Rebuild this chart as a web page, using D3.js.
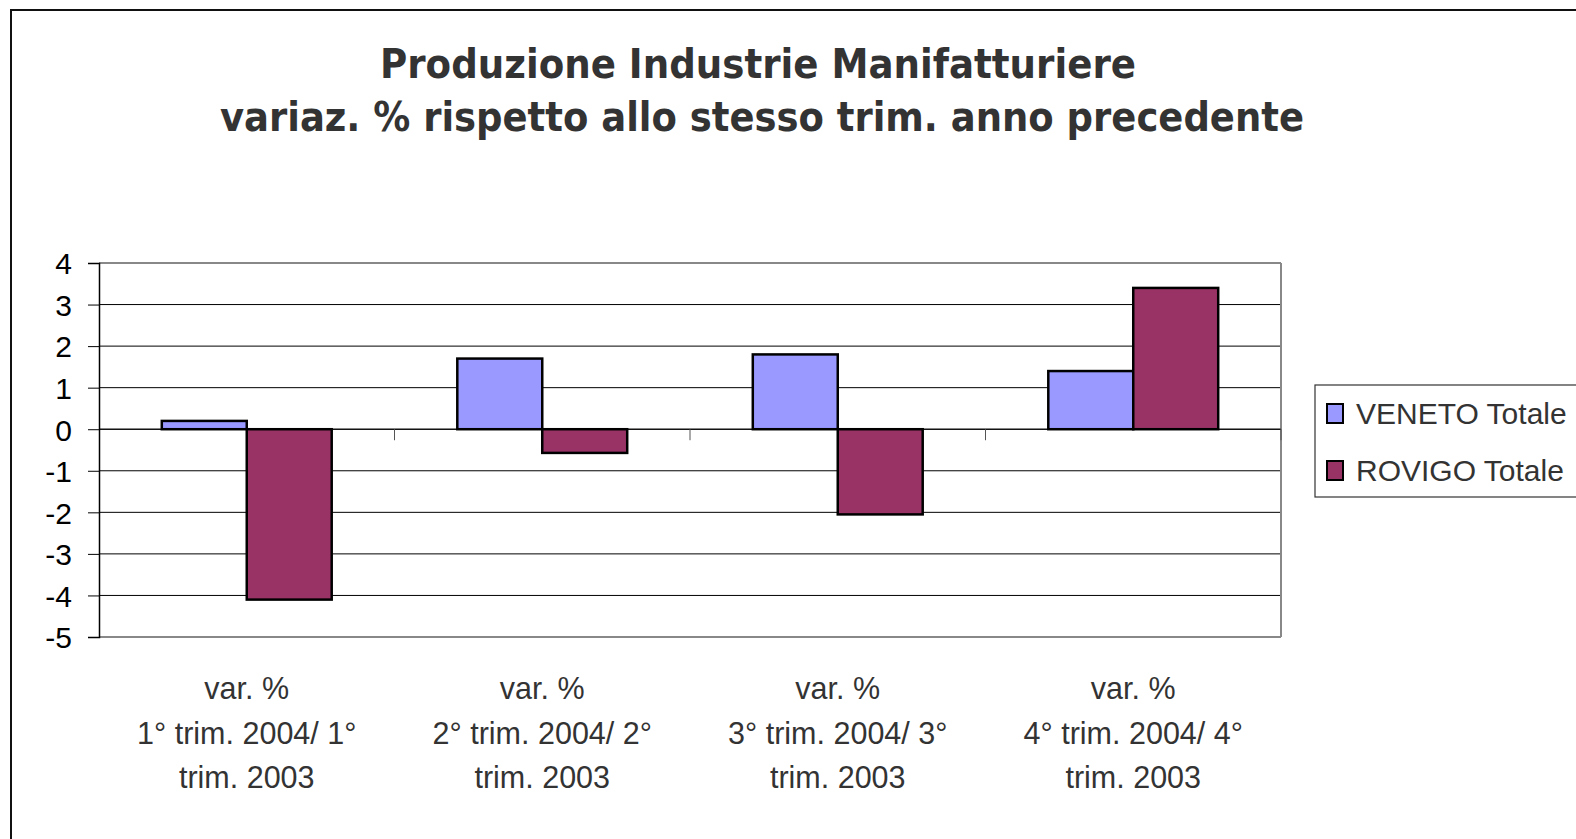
<!DOCTYPE html>
<html><head><meta charset="utf-8">
<script src="https://cdn.jsdelivr.net/npm/d3@7"></script>
<style>body{margin:0;background:#fff}svg{display:block}</style>
</head><body>
<svg id="chart" width="1576" height="839"></svg>
<script>
const titleLines = ["Produzione Industrie Manifatturiere", "variaz. % rispetto allo stesso trim. anno precedente"];
const categories = [
  ["var. %", "1° trim. 2004/ 1°", "trim. 2003"],
  ["var. %", "2° trim. 2004/ 2°", "trim. 2003"],
  ["var. %", "3° trim. 2004/ 3°", "trim. 2003"],
  ["var. %", "4° trim. 2004/ 4°", "trim. 2003"]
];
const seriesNames = ["VENETO Totale", "ROVIGO Totale"];
const venetoValues = [0.2, 1.7, 1.8, 1.4];
const rovigoValues = [-4.1, -0.57, -2.05, 3.4];
const yTicks = [4, 3, 2, 1, 0, -1, -2, -3, -4, -5];
const colors = ["#9999FF", "#993366"];

const svg = d3.select("#chart");
const W = 1576, H = 839;
const plot = {left: 99, right: 1281, top: 263, bottom: 637};

svg.append("rect").attr("width", W).attr("height", H).attr("fill", "#fff");
// outer chart border (extends beyond the picture)
svg.append("rect").attr("x", 11).attr("y", 10).attr("width", 1700).attr("height", 1000)
  .attr("fill", "none").attr("stroke", "#111").attr("stroke-width", 2);

// title
const titleWidths = [756, 1084];
const titleCenters = [758, 762];
titleLines.forEach((t, i) => {
  svg.append("text").attr("x", titleCenters[i]).attr("y", 78 + i * 53)
    .attr("text-anchor", "middle")
    .attr("font-family", "'DejaVu Sans Condensed', 'DejaVu Sans', sans-serif")
    .attr("font-weight", "bold").attr("font-size", 40)
    .attr("fill", "#333")
    .attr("textLength", titleWidths[i]).attr("lengthAdjust", "spacingAndGlyphs")
    .text(t);
});

const y = d3.scaleLinear().domain([-5, 4]).range([plot.bottom, plot.top]);
const x0 = d3.scaleBand().domain(d3.range(categories.length))
  .range([plot.left, plot.right]).paddingInner(0.425).paddingOuter(0.2125);
const x1 = d3.scaleBand().domain([0, 1]).range([0, x0.bandwidth()]);

// gridlines
svg.append("g").selectAll("line").data(yTicks.filter(d => d !== 4 && d !== -5)).join("line")
  .attr("x1", plot.left).attr("x2", plot.right)
  .attr("y1", d => y(d)).attr("y2", d => y(d))
  .attr("stroke", "#000").attr("stroke-width", 1);
// top & bottom & right borders (gray)
svg.append("line").attr("x1", plot.left).attr("x2", plot.right).attr("y1", y(4)).attr("y2", y(4))
  .attr("stroke", "#888").attr("stroke-width", 2);
svg.append("line").attr("x1", plot.left).attr("x2", plot.right).attr("y1", y(-5)).attr("y2", y(-5))
  .attr("stroke", "#888").attr("stroke-width", 2);
svg.append("line").attr("x1", plot.right).attr("x2", plot.right).attr("y1", y(4)).attr("y2", y(-5))
  .attr("stroke", "#888").attr("stroke-width", 2);

// bars
const data = categories.map((c, i) => [venetoValues[i], rovigoValues[i]]);
const groups = svg.append("g").selectAll("g").data(data).join("g")
  .attr("transform", (d, i) => `translate(${x0(i)},0)`);
groups.selectAll("rect").data(d => d.map((v, k) => ({v, k}))).join("rect")
  .attr("x", d => x1(d.k)).attr("width", x1.bandwidth())
  .attr("y", d => y(Math.max(0, d.v))).attr("height", d => Math.abs(y(d.v) - y(0)))
  .attr("fill", d => colors[d.k]).attr("stroke", "#000").attr("stroke-width", 2.5);

// zero line with category ticks
svg.append("line").attr("x1", plot.left).attr("x2", plot.right).attr("y1", y(0)).attr("y2", y(0))
  .attr("stroke", "#000").attr("stroke-width", 1);
const step = x0.step();
svg.append("g").selectAll("line").data(d3.range(1, categories.length + 1)).join("line")
  .attr("x1", i => plot.left + i * step).attr("x2", i => plot.left + i * step)
  .attr("y1", y(0)).attr("y2", y(0) + 11)
  .attr("stroke", "#555").attr("stroke-width", 1);

// y axis
const yAxis = svg.append("g").attr("transform", `translate(${plot.left},0)`)
  .call(d3.axisLeft(y).tickValues(yTicks).tickSize(11).tickPadding(16).tickFormat(d3.format("d")));
yAxis.select(".domain").attr("stroke", "#000").attr("stroke-width", 1.5);
yAxis.selectAll(".tick line").attr("stroke", "#000");
yAxis.selectAll(".tick text").attr("font-family", "'Liberation Sans', Arial, sans-serif")
  .attr("font-size", 30).attr("fill", "#000").attr("dy", "0.36em").text(d => d < 0 ? "-" + Math.abs(d) : d);

// x labels
const xl = svg.append("g").selectAll("text").data(categories).join("text")
  .attr("text-anchor", "middle")
  .attr("font-family", "'Liberation Sans', Arial, sans-serif").attr("font-size", 30.5)
  .attr("fill", "#333");
xl.each(function(lines, i) {
  const cx = x0(i) + x0.bandwidth() / 2;
  d3.select(this).selectAll("tspan").data(lines).join("tspan")
    .attr("x", cx).attr("y", (d, j) => 699 + j * 44.5).text(d => d);
});

// legend
const lg = svg.append("g");
lg.append("rect").attr("x", 1315).attr("y", 385).attr("width", 400).attr("height", 112)
  .attr("fill", "#fff").attr("stroke", "#333").attr("stroke-width", 1.2);
seriesNames.forEach((s, k) => {
  const cy = 413 + k * 57;
  lg.append("rect").attr("x", 1327).attr("y", cy - 9).attr("width", 16).attr("height", 19)
    .attr("fill", colors[k]).attr("stroke", "#000").attr("stroke-width", 2);
  lg.append("text").attr("x", 1356).attr("y", cy + 11)
    .attr("font-family", "'Liberation Sans', Arial, sans-serif").attr("font-size", 30)
    .attr("fill", "#333").text(s);
});
</script>
</body></html>
